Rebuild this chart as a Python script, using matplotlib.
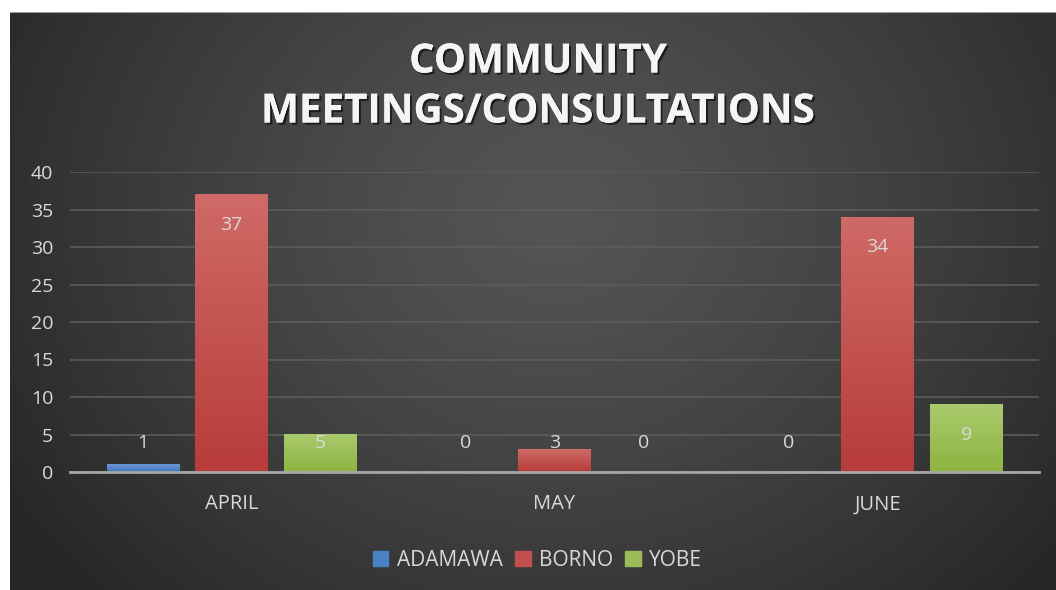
import numpy as np
import matplotlib
matplotlib.use("Agg")
import matplotlib.pyplot as plt
from matplotlib.patches import Rectangle
import matplotlib.patheffects as pe

months = ["APRIL", "MAY", "JUNE"]
series = ["ADAMAWA", "BORNO", "YOBE"]
adamawa = [1, 0, 0]
borno = [37, 3, 34]
yobe = [5, 0, 9]
values = [adamawa, borno, yobe]
yticks = [0, 5, 10, 15, 20, 25, 30, 35, 40]

top_cols = ["#6b9ad6", "#cf6a66", "#a9ca6e"]
bot_cols = ["#3f76bb", "#b83c39", "#8db43f"]
legend_cols = ["#4a80c4", "#c0504d", "#9bbb59"]

W, H = 1056, 590
fig = plt.figure(figsize=(W / 100, H / 100), dpi=100, facecolor="white")

# background gradient
bg = fig.add_axes([10 / W, 0, (W - 10) / W, (H - 12) / H])
bg.set_axis_off()
ny, nx = 300, 540
yy, xx = np.mgrid[0:ny, 0:nx]
cx, cy = nx * 0.52, ny * 0.35
d = np.sqrt(((xx - cx) / (nx * 0.62)) ** 2 + ((yy - cy) / (ny * 0.95)) ** 2)
d = np.clip(d, 0, 1)
val = 0.33 - 0.18 * d ** 1.3
img = np.dstack([val, val, val])
bg.imshow(img, extent=[0, 1, 0, 1], aspect="auto", origin="upper")
bg.set_xlim(0, 1)
bg.set_ylim(0, 1)
bg.axhline(1, color="#9a9a9a", lw=1.5)

ax = fig.add_axes([70 / W, 118 / H, (1039 - 70) / W, 300 / H])
ax.set_facecolor("none")

x = np.arange(len(months))
bw = 0.223
offs = [-0.275, 0.0, 0.275]
font = "Open Sans"
lab_col = "#d9d9d9"

for i, s in enumerate(series):
    bars = ax.bar(x + offs[i], values[i], bw, color=legend_cols[i], zorder=3, label=s)
    for b, v in zip(bars, values[i]):
        if v > 0:
            grad = np.linspace(0, 1, 100).reshape(-1, 1)
            c1 = np.array(matplotlib.colors.to_rgb(top_cols[i]))
            c2 = np.array(matplotlib.colors.to_rgb(bot_cols[i]))
            g = c1[None, None, :] * (1 - grad[:, :, None]) + c2[None, None, :] * grad[:, :, None]
            bx, bwid, bh = b.get_x(), b.get_width(), b.get_height()
            ax.imshow(g, extent=[bx, bx + bwid, 0, bh], aspect="auto", origin="upper", zorder=4)
            b.set_facecolor("none")
        ly = max(v - 4.0, 3.9)
        ax.text(b.get_x() + b.get_width() / 2, ly, str(v), ha="center", va="center",
                color=lab_col, fontsize=14, family=font, zorder=6)
ax.set_xlim(-0.5, 2.5)
ax.set_ylim(0, 40)

ax.set_yticks(yticks)
ax.set_yticklabels([str(t) for t in yticks], color=lab_col, fontsize=14, family=font)
ax.set_xticks(x)
ax.set_xticklabels(months, color=lab_col, fontsize=14.5, family=font)
ax.tick_params(axis="both", length=0)
ax.tick_params(axis="x", pad=16)
ax.tick_params(axis="y", pad=12)
ax.grid(axis="y", color="#5c5c5c", lw=1.2, zorder=0)
for sp in ["top", "right", "left"]:
    ax.spines[sp].set_visible(False)
ax.spines["bottom"].set_color("#a6a6a6")
ax.spines["bottom"].set_linewidth(2)
ax.spines["bottom"].set_zorder(5)

handles = [Rectangle((0, 0), 1, 1, color=c) for c in legend_cols]
leg = fig.legend(handles, series, loc="center", bbox_to_anchor=(0.509, 30 / H), ncol=3,
                 frameon=False, handlelength=0.75, handleheight=0.75,
                 handletextpad=0.4, columnspacing=0.6, prop={"family": font, "size": 15})
for t in leg.get_texts():
    t.set_color(lab_col)

for txt, yy_ in [("COMMUNITY", 62), ("MEETINGS/CONSULTATIONS", 112)]:
    fig.text(538 / W, 1 - yy_ / H, txt, ha="center", va="center", color="#f5f5f5",
             fontsize=29, fontweight="bold", family="Open Sans",
             path_effects=[pe.withSimplePatchShadow(offset=(1.5, -1.5), shadow_rgbFace="black", alpha=0.6), pe.Normal()])

fig.savefig("out.png", dpi=100, facecolor="white")
